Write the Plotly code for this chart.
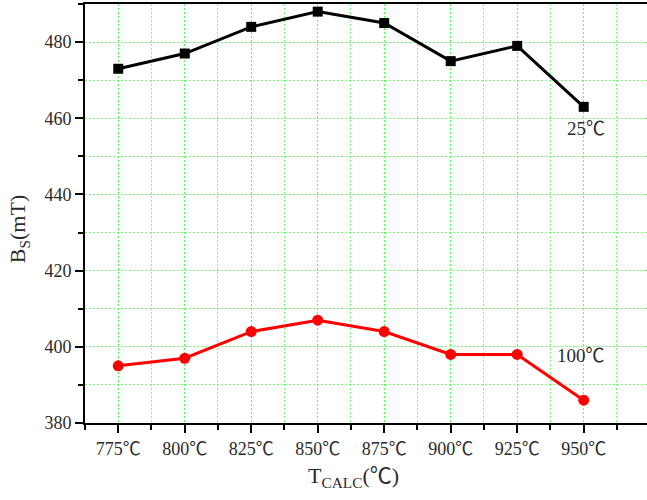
import plotly.graph_objects as go

# Calcination temperature (℃) and saturation flux density Bs (mT)
calc_temps = [775, 800, 825, 850, 875, 900, 925, 950]
tick_labels = ["775℃", "800℃", "825℃", "850℃", "875℃", "900℃", "925℃", "950℃"]
bs_25c = [473, 477, 484, 488, 485, 475, 479, 463]
bs_100c = [395, 397, 404, 407, 404, 398, 398, 386]

FONT = "Liberation Serif, Times New Roman, Noto Sans CJK SC, serif"
GRID = "rgba(60,255,60,0.7)"
GRID_DASH = "2px,2px"
TEXT = "#2a2a2a"

fig = go.Figure()
fig.add_trace(go.Scatter(
    x=calc_temps, y=bs_25c, mode="lines+markers", name="25℃",
    line=dict(color="black", width=3),
    marker=dict(symbol="square", size=10, color="black"),
))
fig.add_trace(go.Scatter(
    x=calc_temps, y=bs_100c, mode="lines+markers", name="100℃",
    line=dict(color="#ff0000", width=3),
    marker=dict(symbol="circle", size=11, color="#ff0000"),
))

# series labels
fig.add_annotation(x=951, y=457.4, text="25℃", showarrow=False,
                   font=dict(family=FONT, size=19, color=TEXT))
fig.add_annotation(x=949, y=397.8, text="100℃", showarrow=False,
                   font=dict(family=FONT, size=19, color=TEXT))

# axis titles
fig.add_annotation(xref="paper", yref="paper", x=0.478, y=-0.13,
                   text="T<sub>CALC</sub>(℃)", showarrow=False,
                   xanchor="center", yanchor="middle",
                   font=dict(family=FONT, size=22, color=TEXT))
fig.add_annotation(xref="paper", yref="paper", x=-0.116, y=0.462,
                   text="B<sub>S</sub>(mT)", showarrow=False, textangle=-90,
                   xanchor="center", yanchor="middle",
                   font=dict(family=FONT, size=22, color=TEXT))

fig.update_layout(
    width=647, height=500,
    margin=dict(l=85, r=0, t=4, b=77),
    paper_bgcolor="white", plot_bgcolor="white",
    showlegend=False,
    font=dict(family=FONT, size=18, color=TEXT),
)

fig.update_xaxes(
    range=[762.5, 973.8],
    tickmode="array", tickvals=calc_temps, ticktext=tick_labels,
    ticks="outside", ticklen=8, tickwidth=2, tickcolor="black",
    showline=True, linecolor="black", linewidth=2, mirror=True,
    showgrid=True, gridcolor=GRID, griddash=GRID_DASH, gridwidth=1,
    minor=dict(tickmode="linear", tick0=762.5, dtick=12.5, ticks="outside",
               ticklen=5, tickwidth=2, tickcolor="black",
               showgrid=True, gridcolor=GRID, griddash=GRID_DASH, gridwidth=1),
    zeroline=False,
    tickfont=dict(family=FONT, size=18, color=TEXT),
)

fig.update_yaxes(
    range=[380, 490],
    tickmode="linear", tick0=380, dtick=20,
    ticks="outside", ticklen=8, tickwidth=2, tickcolor="black",
    showline=True, linecolor="black", linewidth=2, mirror=False,
    showgrid=True, gridcolor=GRID, griddash=GRID_DASH, gridwidth=1,
    minor=dict(tickmode="linear", tick0=370, dtick=10, ticks="outside",
               ticklen=5, tickwidth=2, tickcolor="black",
               showgrid=True, gridcolor=GRID, griddash=GRID_DASH, gridwidth=1),
    zeroline=False,
    tickfont=dict(family=FONT, size=18, color=TEXT),
)

fig.write_html("out.html")
